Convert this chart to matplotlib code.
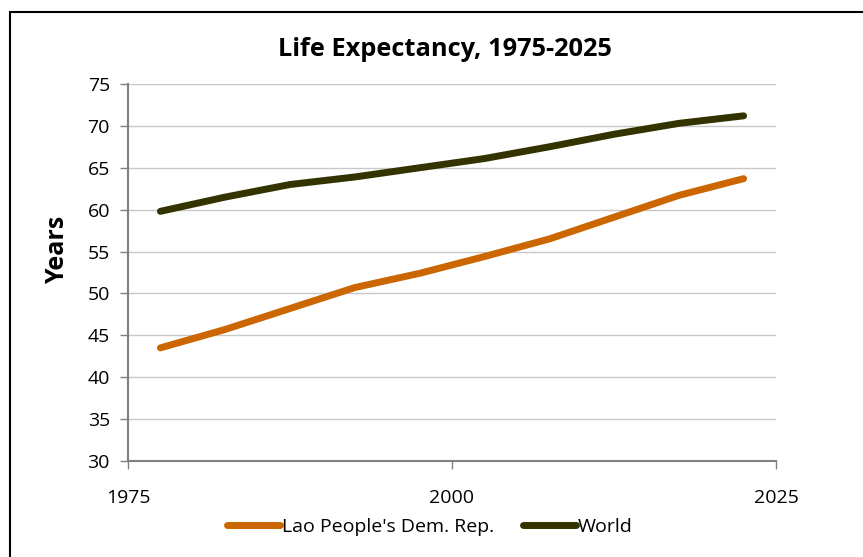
import matplotlib.pyplot as plt
from matplotlib.patches import Rectangle

# ========== Data ==========
years = [1977.5, 1982.5, 1987.5, 1992.5, 1997.5, 2002.5, 2007.5, 2012.5, 2017.5, 2022.5]
lao = [43.5, 45.7, 48.2, 50.7, 52.4, 54.4, 56.5, 59.1, 61.7, 63.7]
world = [59.8, 61.5, 63.0, 63.9, 65.0, 66.1, 67.5, 69.0, 70.3, 71.2]
xticks = [1975, 2000, 2025]
yticks = [30, 35, 40, 45, 50, 55, 60, 65, 70, 75]

plt.rcParams['font.family'] = ['Open Sans', 'DejaVu Sans']

fig = plt.figure(figsize=(8.63, 5.57), dpi=100)
ax = fig.add_axes([0.1483, 0.1724, 0.7509, 0.6768])

# outer frame
fig.patches.append(Rectangle((10 / 863, -0.1), 1.2, 1 - 12 / 557 + 0.1,
                             transform=fig.transFigure, fill=False,
                             edgecolor='black', linewidth=1.5))

ax.plot(years, lao, color='#CC6600', linewidth=5, solid_capstyle='round',
        label="Lao People's Dem. Rep.")
ax.plot(years, world, color='#333300', linewidth=5, solid_capstyle='round',
        label='World')

ax.set_xlim(1975, 2025)
ax.set_ylim(30, 75)
ax.set_xticks(xticks)
ax.set_yticks(yticks)
ax.yaxis.grid(True, color='#C8C8C8', linewidth=1)
ax.set_axisbelow(True)
for s in ['top', 'right']:
    ax.spines[s].set_visible(False)
for s in ['left', 'bottom']:
    ax.spines[s].set_color('#808080')
    ax.spines[s].set_linewidth(1.5)
ax.tick_params(axis='both', colors='#808080', labelcolor='black', labelsize=14,
               length=6, width=1)
ax.tick_params(axis='x', pad=14)
ax.tick_params(axis='y', pad=7)

ax.set_ylabel('Years', fontsize=18, fontweight='bold')
ax.yaxis.set_label_coords(-0.089, 0.56)
ax.set_title('Life Expectancy, 1975-2025', fontsize=18.3, fontweight='bold',
             pad=20, x=0.489)

ax.legend(loc='upper center', bbox_to_anchor=(0.466, -0.105), ncol=2, frameon=False,
          fontsize=14, handlelength=2.7, handletextpad=0.1, columnspacing=1.5)

fig.savefig('out.png', dpi=100)
